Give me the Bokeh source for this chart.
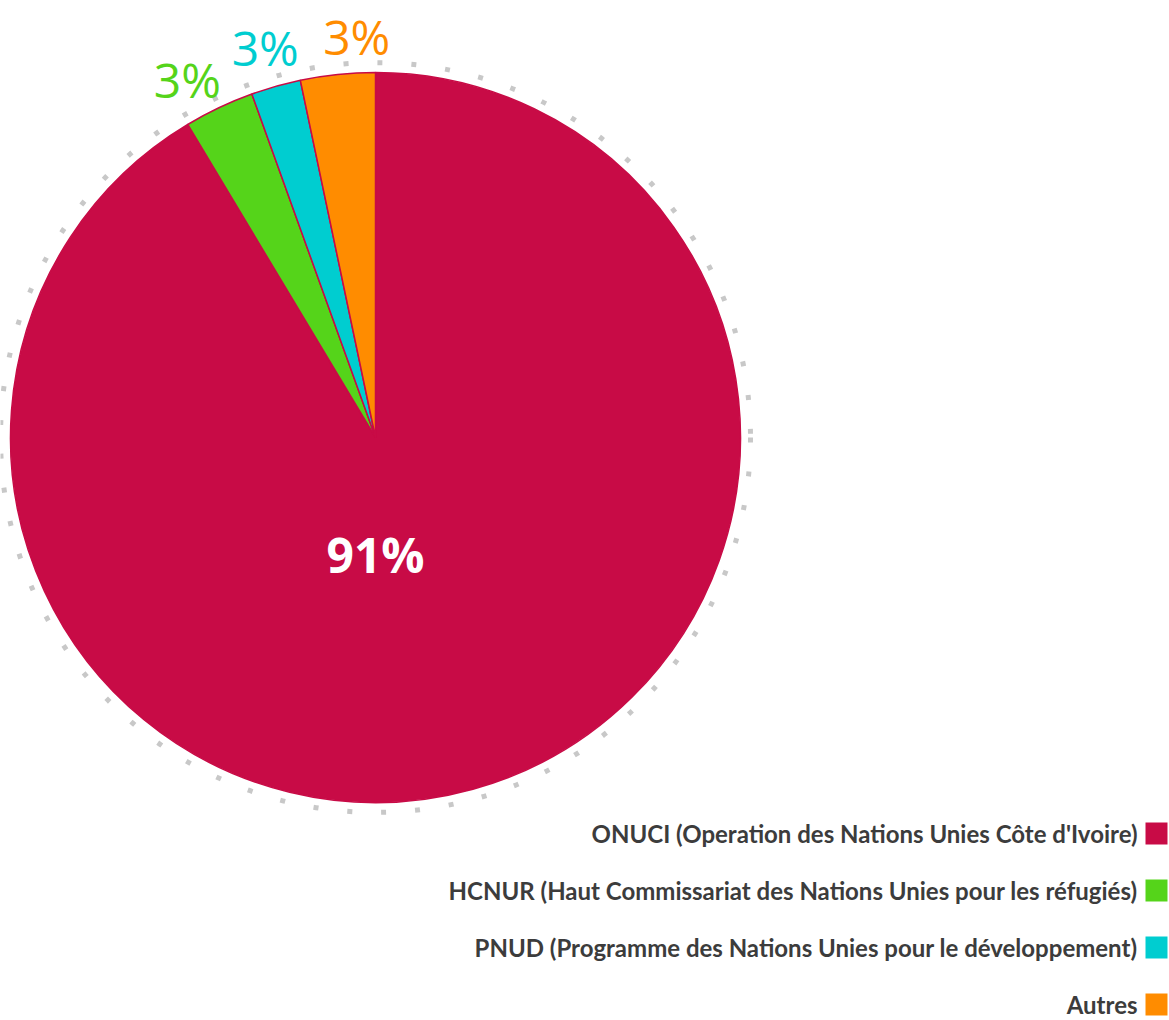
import math
from bokeh.plotting import figure
from bokeh.models import Range1d, ColumnDataSource
from bokeh.core.properties import value
from bokeh.embed import file_html
from bokeh.resources import INLINE

categories = [
    "ONUCI (Operation des Nations Unies Côte d'Ivoire)",
    "HCNUR (Haut Commissariat des Nations Unies pour les réfugiés)",
    "PNUD (Programme des Nations Unies pour le développement)",
    "Autres",
]
shares = [91.4, 3.1, 2.2, 3.3]
labels = ["91%", "3%", "3%", "3%"]
colors = ["#c80b46", "#55d41a", "#00cdd0", "#ff8c00"]

W, H = 1169, 1020
CX, CY = 375, 437  # pie centre in page pixels
R = 365

p = figure(width=W, height=H, output_backend="svg", toolbar_location=None,
           x_range=Range1d(-CX, W - CX), y_range=Range1d(-(H - CY), CY),
           min_border=0, outline_line_color=None, background_fill_color="white",
           border_fill_color="white")
p.axis.visible = False
p.grid.visible = False

# dotted ring
p.circle(x=[0], y=[0], radius=R + 10, fill_color=None, line_color="#c8c8c8",
         line_width=5, line_dash="5 29")

# wedges: anticlockwise from top, in reverse category order
total = sum(shares)
order = list(range(len(shares)))[::-1]
starts, ends, mids = {}, {}, {}
a = math.pi / 2
for i in order:
    span = shares[i] / total * 2 * math.pi
    starts[i] = a
    ends[i] = a + span
    mids[i] = a + span / 2
    a += span

src = ColumnDataSource(dict(
    start=[starts[i] for i in range(len(shares))],
    end=[ends[i] for i in range(len(shares))],
    color=colors,
))
p.wedge(x=0, y=0, radius=R, start_angle="start", end_angle="end",
        direction="anticlock", fill_color="color", line_color="#c80b46",
        line_width=1.5, source=src)

# outer labels for small slices
lab_r = 404
x_shift = [0, -15, 0, 23]
y_shift = [0, -7, 1, -1]
for i in range(1, len(shares)):
    p.text(x=[lab_r * math.cos(mids[i]) + x_shift[i]],
           y=[lab_r * math.sin(mids[i]) + y_shift[i]],
           text=[labels[i]], text_color=colors[i], text_font=value("Open Sans"),
           text_font_size="48px", text_align="center", text_baseline="middle")

# main label
p.text(x=[0], y=[-0.32 * R], text=[labels[0]], text_color="white",
       text_font=value("Open Sans"), text_font_style="bold",
       text_font_size="48px", text_align="center", text_baseline="middle")

# legend
leg_x = 1156 - CX
leg_y0 = CY - 833
leg_dy = 57
ys = [leg_y0 - k * leg_dy for k in range(len(categories))]
p.rect(x=[leg_x] * len(categories), y=ys, width=22, height=22,
       width_units="screen", height_units="screen", fill_color=colors, line_color=None)
p.text(x=[leg_x - 19] * len(categories), y=ys, text=categories,
       text_color="#3c3c3c", text_font=value("Lato"), text_font_style="bold",
       text_font_size="24px", text_align="right", text_baseline="middle")

open("out.html", "w").write(file_html(p, INLINE))
